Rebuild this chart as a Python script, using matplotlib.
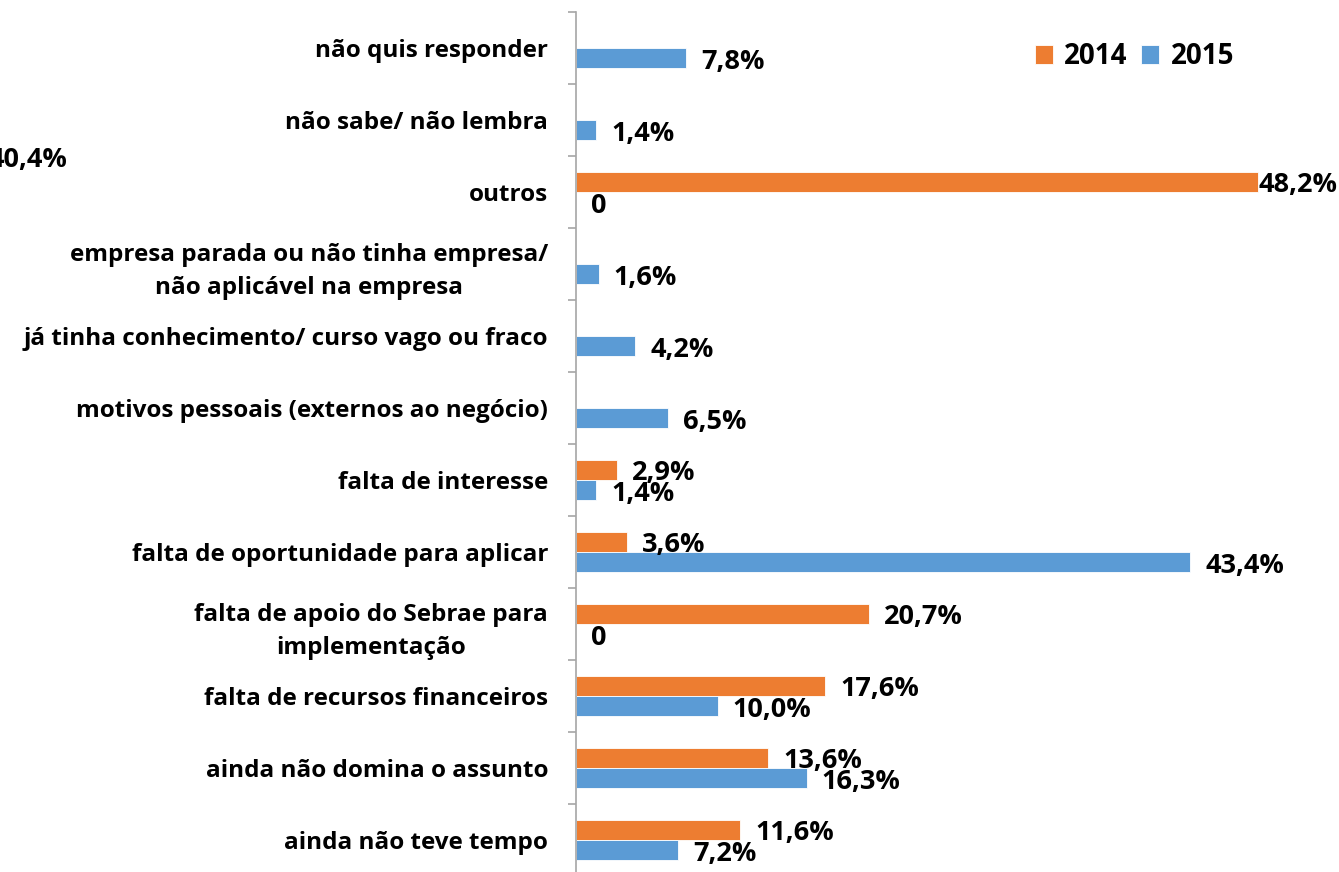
import numpy as np
import matplotlib.pyplot as plt

# Categorias (de baixo para cima)
categorias = [
    'ainda não teve tempo',
    'ainda não domina o assunto',
    'falta de recursos financeiros',
    'falta de apoio do Sebrae para\nimplementação',
    'falta de oportunidade para aplicar',
    'falta de interesse',
    'motivos pessoais (externos ao negócio)',
    'já tinha conhecimento/ curso vago ou fraco',
    'empresa parada ou não tinha empresa/\nnão aplicável na empresa',
    'outros',
    'não sabe/ não lembra',
    'não quis responder',
]

# Valores (%), None = sem barra / sem rótulo
valores_2014 = [11.6, 13.6, 17.6, 20.7, 3.6, 2.9, None, None, None, 48.2, None, None]
valores_2015 = [7.2, 16.3, 10.0, 0.0, 43.4, 1.4, 6.5, 4.2, 1.6, 0.0, 1.4, 7.8]

cor_2014 = '#ED7D31'
cor_2015 = '#5B9BD5'

plt.rcParams['font.family'] = ['Open Sans', 'DejaVu Sans']
plt.rcParams['font.weight'] = 'bold'

fig = plt.figure(figsize=(13.39, 8.72), dpi=100)
ax = fig.add_axes([576 / 1339, -4 / 872, 707.5 / 1339, 864 / 872])

y = np.arange(len(categorias))
h = 0.28

v14 = np.array([np.nan if v is None else v for v in valores_2014])
v15 = np.array([np.nan if v is None else v for v in valores_2015])

b14 = ax.barh(y + h / 2, np.nan_to_num(v14), height=h, color=cor_2014,
              edgecolor='white', linewidth=0.6, label='2014')
b15 = ax.barh(y - h / 2, np.nan_to_num(v15), height=h, color=cor_2015,
              edgecolor='white', linewidth=0.6, label='2015')


def fmt(v):
    if v == 0:
        return '0'
    return f'{v:.1f}'.replace('.', ',') + '%'


for i, v in enumerate(v14):
    if np.isnan(v):
        continue
    dx = 0 if v > 45 else 11
    ax.annotate(fmt(v), (v, y[i] + h / 2), xytext=(dx, -2),
                textcoords='offset points', ha='left', va='center',
                fontsize=19.5, fontweight='bold', color='black')

for i, v in enumerate(v15):
    if np.isnan(v):
        continue
    ax.annotate(fmt(v), (v, y[i] - h / 2), xytext=(11, -2.5),
                textcoords='offset points', ha='left', va='center',
                fontsize=19.5, fontweight='bold', color='black')

# rótulo solto que aparece à esquerda no original
ax.text(-41.5, 9.45, '40,4%', ha='left', va='center', fontsize=19.5,
        fontweight='bold', color='black', clip_on=False)

ax.set_xlim(0, 50)
ax.set_ylim(-0.5, len(categorias) - 0.5)

ax.set_yticks(y)
ax.set_yticklabels(categorias, fontsize=17.5, fontweight='bold',
                   multialignment='center', linespacing=1.5)
ax.tick_params(axis='y', which='major', length=0, pad=20)
ax.set_yticks(np.arange(-0.5, len(categorias), 1), minor=True)
ax.tick_params(axis='y', which='minor', length=6, color='#a6a6a6',
               direction='out', width=1.2)

ax.set_xticks([])
for s in ['top', 'right', 'bottom']:
    ax.spines[s].set_visible(False)
ax.spines['left'].set_color('#a6a6a6')
ax.spines['left'].set_linewidth(1.2)

fig.legend(handles=[b14, b15], loc='center left',
           bbox_to_anchor=(1010 / 1339, 1 - 57 / 872), ncol=2, frameon=False,
           handlelength=0.65, handleheight=0.65,
           handletextpad=0.4, columnspacing=0.5,
           prop={'weight': 'bold', 'size': 20})

fig.savefig('out.png', dpi=100)
